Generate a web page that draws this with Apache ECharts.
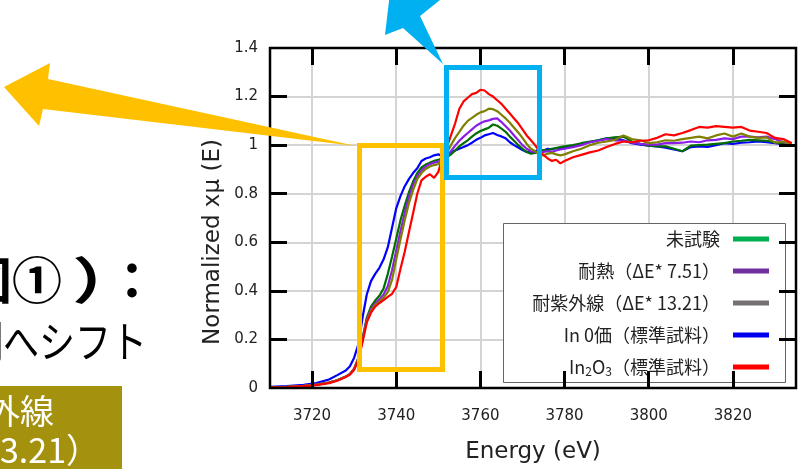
<!DOCTYPE html>
<html>
<head>
<meta charset="utf-8">
<script src="https://cdn.jsdelivr.net/npm/echarts@6/dist/echarts.min.js"></script>
<style>
  html, body { margin: 0; padding: 0; background: #fff; }
  #chart { width: 802px; height: 469px; }
</style>
</head>
<body>
<div id="chart"></div>
<script>
// エネルギー軸 (eV)
const energy = [
  3710, 3714, 3718, 3721, 3724, 3726, 3728,
  3729, 3730, 3731, 3732, 3733, 3734, 3735, 3736, 3737, 3738, 3739, 3740,
  3741, 3742, 3743, 3744, 3745, 3746, 3747, 3748, 3749, 3750,
  3751, 3752, 3753, 3754, 3755, 3756, 3757, 3758, 3759, 3760,
  3761, 3762, 3763, 3764, 3765, 3766, 3767, 3768, 3769, 3770,
  3771, 3772, 3773, 3774, 3775, 3776, 3777, 3778, 3779, 3780,
  3782, 3784, 3786, 3788, 3790, 3792, 3794, 3796, 3798, 3800,
  3802, 3804, 3806, 3808, 3810, 3812, 3814, 3816, 3818, 3820,
  3822, 3824, 3826, 3828, 3830, 3832, 3834
];

// 未試験
const untested = [
  0.003, 0.005, 0.009, 0.014, 0.022, 0.032, 0.047,
  0.058, 0.080, 0.124, 0.205, 0.290, 0.335, 0.360, 0.380, 0.410, 0.470, 0.540, 0.615,
  0.690, 0.750, 0.805, 0.850, 0.885, 0.908, 0.920, 0.928, 0.935, 0.940,
  0.945, 0.950, 0.962, 0.978, 0.995, 1.008, 1.020, 1.035, 1.048, 1.058,
  1.065, 1.072, 1.085, 1.080, 1.068, 1.055, 1.035, 1.018, 1.000, 0.985,
  0.972, 0.965, 0.968, 0.975, 0.980, 0.978, 0.985, 0.988, 0.992, 0.995,
  1.000, 1.008, 1.015, 1.020, 1.028, 1.032, 1.035, 1.015, 1.005, 0.998,
  0.995, 0.995, 0.985, 0.975, 0.998, 1.000, 1.002, 1.005, 1.008, 1.015,
  1.018, 1.022, 1.020, 1.018, 1.012, 1.005, 1.000
];

// 耐熱（ΔE* 7.51）
const heat = [
  0.003, 0.005, 0.009, 0.014, 0.022, 0.032, 0.047,
  0.058, 0.080, 0.122, 0.200, 0.282, 0.325, 0.348, 0.365, 0.385, 0.420, 0.485, 0.565,
  0.645, 0.720, 0.785, 0.835, 0.872, 0.895, 0.912, 0.922, 0.928, 0.932,
  0.942, 0.955, 0.975, 0.998, 1.018, 1.035, 1.050, 1.065, 1.080, 1.090,
  1.098, 1.102, 1.108, 1.110, 1.095, 1.078, 1.060, 1.040, 1.020, 1.000,
  0.985, 0.975, 0.972, 0.970, 0.972, 0.975, 0.972, 0.978, 0.982, 0.985,
  0.992, 1.000, 1.012, 1.018, 1.025, 1.020, 1.018, 1.010, 1.005, 1.002,
  1.002, 1.008, 1.008, 1.010, 1.015, 1.012, 1.020, 1.022, 1.028, 1.025,
  1.035, 1.035, 1.032, 1.035, 1.025, 1.012, 1.000
];

// 耐紫外線（ΔE* 13.21）
const uv = [
  0.003, 0.005, 0.009, 0.014, 0.022, 0.032, 0.046,
  0.056, 0.078, 0.120, 0.195, 0.275, 0.318, 0.342, 0.356, 0.372, 0.395, 0.445, 0.530,
  0.610, 0.690, 0.760, 0.815, 0.860, 0.885, 0.902, 0.912, 0.918, 0.922,
  0.945, 0.968, 1.000, 1.030, 1.055, 1.080, 1.100, 1.112, 1.125, 1.135,
  1.140, 1.150, 1.148, 1.140, 1.125, 1.110, 1.092, 1.072, 1.052, 1.030,
  1.005, 0.985, 0.975, 0.962, 0.958, 0.965, 0.968, 0.962, 0.958, 0.962,
  0.975, 0.985, 1.000, 1.010, 1.015, 1.022, 1.040, 1.025, 1.020, 1.008,
  1.012, 1.020, 1.018, 1.025, 1.030, 1.035, 1.028, 1.040, 1.048, 1.035,
  1.048, 1.035, 1.030, 1.032, 1.010, 1.015, 1.002
];

// In 0価（標準試料）
const in0 = [
  0.005, 0.008, 0.013, 0.020, 0.035, 0.053, 0.072,
  0.090, 0.125, 0.180, 0.290, 0.385, 0.440, 0.470, 0.495, 0.530, 0.580, 0.660, 0.740,
  0.790, 0.830, 0.860, 0.885, 0.905, 0.935, 0.945, 0.950, 0.958, 0.962,
  0.955, 0.960, 0.970, 0.978, 0.985, 0.992, 1.000, 1.010, 1.022, 1.030,
  1.040, 1.045, 1.050, 1.042, 1.036, 1.028, 1.012, 1.000, 0.990, 0.980,
  0.972, 0.970, 0.975, 0.982, 0.978, 0.985, 0.982, 0.988, 0.986, 0.990,
  0.995, 1.005, 1.012, 1.020, 1.028, 1.030, 1.020, 1.008, 1.002, 0.998,
  0.995, 0.990, 0.982, 0.975, 0.992, 0.995, 0.993, 1.000, 1.008, 1.005,
  1.010, 1.012, 1.015, 1.012, 1.008, 1.004, 1.000
];

// In2O3（標準試料）
const in2o3 = [
  0.002, 0.004, 0.008, 0.012, 0.020, 0.030, 0.045,
  0.055, 0.075, 0.115, 0.190, 0.270, 0.310, 0.335, 0.350, 0.362, 0.375, 0.388, 0.415,
  0.490, 0.560, 0.640, 0.720, 0.800, 0.855, 0.870, 0.880, 0.865, 0.890,
  0.950, 0.990, 1.040, 1.090, 1.150, 1.180, 1.195, 1.210, 1.215, 1.228,
  1.225, 1.210, 1.200, 1.185, 1.170, 1.150, 1.130, 1.110, 1.090, 1.065,
  1.040, 1.020, 1.000, 0.975, 0.960, 0.945, 0.935, 0.940, 0.925, 0.935,
  0.950, 0.960, 0.970, 0.978, 0.992, 1.005, 1.015, 1.012, 1.018, 1.020,
  1.030, 1.045, 1.040, 1.050, 1.062, 1.075, 1.072, 1.078, 1.075, 1.072,
  1.075, 1.060, 1.055, 1.050, 1.030, 1.025, 1.008
];

// 目盛
const xTicks = [3720, 3740, 3760, 3780, 3800, 3820];
const yTicks = [0.2, 0.4, 0.6, 0.8, 1.0, 1.2];

const NAME_UNTESTED = '未試験';
const NAME_HEAT = '耐熱（ΔE* 7.51）';
const NAME_UV = '耐紫外線（ΔE* 13.21）';
const NAME_IN0 = 'In 0価（標準試料）';
const NAME_IN2O3 = 'In2O3（標準試料）';

const X_MIN = 3710, X_MAX = 3835, Y_MIN = 0, Y_MAX = 1.4;

const chart = echarts.init(document.getElementById('chart'));

const pairs = arr => energy.map((e, i) => [e, arr[i]]);

const labelFont = { fontFamily: 'DejaVu Sans', fontSize: 15, color: '#222' };
const gridLine = { show: true, lineStyle: { color: '#d4d4d4', width: 2 } };

const line = (name, data, color) => ({
  name: name,
  type: 'line',
  data: pairs(data),
  showSymbol: false,
  lineStyle: { color: color, width: 2.2 },
  itemStyle: { color: color },
  z: 3
});

const legendItem = (name, color) => ({
  name: name,
  itemStyle: { color: color, borderWidth: 0 }
});

// 注釈（枠・矢印・左側の文字）
const annotations = [
  {
    type: 'text', x: 213, y: 242, rotation: Math.PI / 2, z: 10,
    style: { text: 'Normalized xμ (E)', fontFamily: 'DejaVu Sans', fontSize: 23, fill: '#222', align: 'center', verticalAlign: 'middle' }
  },
  {
    type: 'rect', z: 5,
    shape: { x: 503.5, y: 223.5, width: 282, height: 159 },
    style: { fill: '#fff', stroke: '#666', lineWidth: 1 }
  },
  {
    type: 'polygon', z: 100,
    shape: { points: [[4, 87], [50, 63], [48, 79], [356, 146], [43, 109], [39, 126]] },
    style: { fill: '#ffc000' }
  },
  {
    type: 'rect', z: 100,
    shape: { x: 359.5, y: 145.5, width: 83, height: 224 },
    style: { fill: 'none', stroke: '#ffc000', lineWidth: 5 }
  },
  {
    type: 'polygon', z: 100,
    shape: { points: [[443, 64], [403, 28], [385, 35], [391, -16], [440, 0], [420, 16]] },
    style: { fill: '#00b0f0' }
  },
  {
    type: 'rect', z: 100,
    shape: { x: 446.5, y: 67.5, width: 93, height: 110 },
    style: { fill: 'none', stroke: '#00b0f0', lineWidth: 5 }
  },
  {
    type: 'text', x: -13, y: 280, z: 100,
    style: { text: '図', fontFamily: 'Noto Sans CJK JP', fontWeight: 'bold', fontSize: 50, fill: '#000', align: 'center', verticalAlign: 'middle' }
  },
  {
    type: 'text', x: 37, y: 280, z: 100,
    style: { text: '①', fontFamily: 'Noto Sans CJK JP', fontWeight: 'bold', fontSize: 50, fill: '#000', align: 'center', verticalAlign: 'middle' }
  },
  {
    type: 'text', x: 72, y: 280, z: 100, scaleX: 1.4,
    style: { text: '）', fontFamily: 'Noto Sans CJK JP', fontWeight: 'bold', fontSize: 50, fill: '#000', align: 'left', verticalAlign: 'middle' }
  },
  {
    type: 'text', x: 132, y: 280, z: 100,
    style: { text: '：', fontFamily: 'Noto Sans CJK JP', fontWeight: 'bold', fontSize: 50, fill: '#000', align: 'center', verticalAlign: 'middle' }
  },
  {
    type: 'text', x: 147, y: 342, z: 100, scaleY: 1.2,
    style: { text: '側へシフト', fontFamily: 'Noto Sans CJK JP', fontSize: 36, fill: '#000', align: 'right', verticalAlign: 'middle' }
  },
  {
    type: 'rect', z: 100,
    shape: { x: -10, y: 386, width: 132, height: 90 },
    style: { fill: '#a4920e' }
  },
  {
    type: 'text', x: 54, y: 411, z: 101,
    style: { text: '耐紫外線', fontFamily: 'Noto Sans CJK JP', fontSize: 34, fill: '#fff', align: 'right', verticalAlign: 'middle' }
  },
  {
    type: 'text', x: 100, y: 450, z: 101,
    style: { text: '（ΔE* 13.21）', fontFamily: 'Noto Sans CJK JP', fontSize: 34, fill: '#fff', align: 'right', verticalAlign: 'middle' }
  }
];

const option = {
  animation: false,
  backgroundColor: '#fff',
  grid: { left: 270, right: 6, top: 48, bottom: 75 },
  xAxis: {
    type: 'value',
    min: X_MIN,
    max: X_MAX,
    splitNumber: 6,
    axisLine: { show: false },
    axisTick: { show: false },
    axisLabel: Object.assign({ margin: 21, showMinLabel: false, showMaxLabel: false, formatter: v => String(v) }, labelFont),
    splitLine: gridLine,
    name: 'Energy (eV)',
    nameLocation: 'middle',
    nameGap: 53,
    nameTextStyle: { fontFamily: 'DejaVu Sans', fontSize: 23, color: '#222' }
  },
  yAxis: {
    type: 'value',
    min: Y_MIN,
    max: Y_MAX,
    interval: 0.2,
    axisLine: { show: false },
    axisTick: { show: false },
    axisLabel: Object.assign({ margin: 12 }, labelFont),
    splitLine: gridLine
  },
  legend: {
    orient: 'vertical',
    right: 16,
    top: 223,
    align: 'right',
    icon: 'rect',
    itemWidth: 36,
    itemHeight: 5,
    itemGap: 12,
    padding: [6, 17, 7, 9],
    z: 6,
    textStyle: {
      fontFamily: 'Noto Sans CJK JP',
      fontSize: 18,
      lineHeight: 20,
      color: '#222',
      rich: {
        t: { fontFamily: 'Noto Sans CJK JP', fontSize: 18, lineHeight: 20, color: '#222', padding: [0, 8, 0, 0] },
        n: { fontFamily: 'Noto Sans CJK JP', fontSize: 18, lineHeight: 20, color: '#222' },
        s: { fontFamily: 'Noto Sans CJK JP', fontSize: 12, lineHeight: 6, verticalAlign: 'bottom', color: '#222' }
      }
    },
    formatter: function (name) {
      if (name === NAME_IN2O3) return '{n|In}{s|2}{n|O}{s|3}{t|（標準試料）}';
      return '{t|' + name + '}';
    },
    data: [
      legendItem(NAME_UNTESTED, '#00b050'),
      legendItem(NAME_HEAT, '#7030a0'),
      legendItem(NAME_UV, '#767171'),
      legendItem(NAME_IN0, '#0000ee'),
      legendItem(NAME_IN2O3, '#ff0000')
    ]
  },
  series: [
    line(NAME_IN0, in0, '#0000ff'),
    line(NAME_UNTESTED, untested, '#006e00'),
    line(NAME_HEAT, heat, '#8a1ee6'),
    line(NAME_UV, uv, '#808000'),
    line(NAME_IN2O3, in2o3, '#ff0000')
  ],
  graphic: annotations
};

chart.setOption(option);

// 枠と内向きの目盛（軸のスケールから位置を求める）
const TICK = 17;
const TW = 3;
const px = (x, y) => chart.convertToPixel({ gridIndex: 0 }, [x, y]);
const lb = px(X_MIN, Y_MIN);
const rt = px(X_MAX, Y_MAX);
const frame = [{
  type: 'rect', z: 20, silent: true,
  shape: { x: lb[0], y: rt[1], width: rt[0] - lb[0], height: lb[1] - rt[1] },
  style: { fill: 'none', stroke: '#000', lineWidth: 2.5 }
}];

// 目盛の長さをデータ単位に直して markLine で描く
const inv = (x, y) => chart.convertFromPixel({ gridIndex: 0 }, [x, y]);
const dy = inv(lb[0], lb[1] - TICK)[1] - Y_MIN;
const dx = inv(lb[0] + TICK, lb[1])[0] - X_MIN;
const tickSegs = [];
xTicks.forEach(v => {
  tickSegs.push([{ coord: [v, Y_MIN] }, { coord: [v, Y_MIN + dy] }]);
  tickSegs.push([{ coord: [v, Y_MAX] }, { coord: [v, Y_MAX - dy] }]);
});
yTicks.forEach(v => {
  tickSegs.push([{ coord: [X_MIN, v] }, { coord: [X_MIN + dx, v] }]);
  tickSegs.push([{ coord: [X_MAX, v] }, { coord: [X_MAX - dx, v] }]);
});

chart.setOption({
  graphic: annotations.concat(frame),
  series: [{}, {}, {}, {}, {
    markLine: {
      silent: true,
      z: 20,
      symbol: ['none', 'none'],
      label: { show: false },
      lineStyle: { color: '#000', width: TW, type: 'solid', opacity: 1 },
      emphasis: { disabled: true },
      data: tickSegs
    }
  }]
});
</script>
</body>
</html>
